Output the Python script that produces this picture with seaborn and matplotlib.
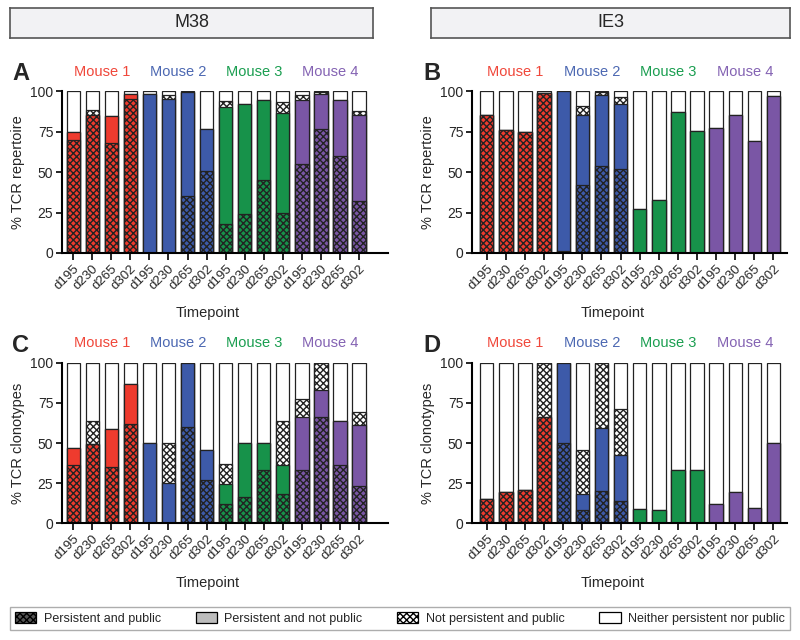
import matplotlib.pyplot as plt
import matplotlib.patches as mpatches
import pandas as pd
import numpy as np
import seaborn as sns

sns.set_theme(style='ticks')
plt.rcParams['font.family'] = ['Liberation Sans', 'DejaVu Sans']
plt.rcParams['hatch.linewidth'] = 1.0

mice = ['Mouse 1', 'Mouse 2', 'Mouse 3', 'Mouse 4']
timepoints = ['d195', 'd230', 'd265', 'd302']
mouse_colors = ['#EE3B2E', '#3D5AA9', '#17924A', '#7A56A5']
label_colors = ['#F0473A', '#4C68B2', '#1A9E50', '#8463B3']

# % of bar: persistent & public, persistent & not public, not persistent & public
# the rest up to 100 is "neither persistent nor public"
m38_rep_pp = [70, 85, 68, 95, 0, 0, 35, 50.5, 18, 24, 45, 25, 55, 76.5, 60, 32]
m38_rep_pnp = [4.5, 0, 16.5, 3.5, 98.5, 95, 64.5, 26, 72, 68, 49.5, 61.5, 39.5, 22, 34.5, 53]
m38_rep_npp = [0, 3.5, 0, 0, 0, 2.5, 0, 0, 4, 0, 0, 6.5, 3, 1, 0, 3]

ie3_rep_pp = [85.5, 76, 74.5, 99, 1, 42, 54, 52, 0, 0, 0, 0, 0, 0, 0, 0]
ie3_rep_pnp = [0, 0, 0, 0, 99, 43.5, 43.5, 40, 27, 33, 87, 75.5, 77, 85, 69, 97]
ie3_rep_npp = [0, 0, 0, 0, 0, 5, 2, 4.5, 0, 0, 0, 0, 0, 0, 0, 0]

m38_clo_pp = [36.5, 49.5, 35, 62, 0, 0, 60, 27, 12, 16.5, 33, 18, 33, 66.5, 36, 23]
m38_clo_pnp = [10.5, 0, 23.5, 25, 50, 25, 40, 18.5, 12.5, 33.5, 17, 18, 33.5, 16.5, 27.5, 38]
m38_clo_npp = [0, 14.5, 0, 0, 0, 25, 0, 0, 12.5, 0, 0, 27.5, 11, 17, 0, 8.5]

ie3_clo_pp = [15, 19.5, 21, 66.5, 50, 8.5, 20, 14, 0, 0, 0, 0, 0, 0, 0, 0]
ie3_clo_pnp = [0, 0, 0, 0, 50, 9.5, 39.5, 28.5, 9, 8.5, 33, 33, 12, 19.5, 9.5, 50]
ie3_clo_npp = [0, 0, 0, 33.5, 0, 27.5, 40.5, 28.5, 0, 0, 0, 0, 0, 0, 0, 0]

legend_labels = ['Persistent and public', 'Persistent and not public',
                 'Not persistent and public', 'Neither persistent nor public']

CHECK = 'xxxxx'
EDGE = '#222222'


def make_frame(pp, pnp, npp):
    df = pd.DataFrame({'mouse': np.repeat(mice, 4), 'timepoint': timepoints * 4,
                       'pp': pp, 'pnp': pnp, 'npp': npp})
    df['bar'] = df['mouse'] + ' ' + df['timepoint']
    df['top_pnp'] = df['pp'] + df['pnp']
    df['top_npp'] = df['top_pnp'] + df['npp']
    df['top_all'] = 100
    return df


def draw_panel(ax, df, ylabel, letter, xlim):
    order = list(df['bar'])
    common = dict(x='bar', order=order, width=0.7, edgecolor=EDGE, linewidth=0.9,
                  saturation=1, errorbar=None, ax=ax)
    # stacked bars: draw the running totals from the top layer down
    sns.barplot(data=df, y='top_all', color='white', **common)
    sns.barplot(data=df, y='top_npp', color='white', hatch=CHECK, **common)
    sns.barplot(data=df, y='top_pnp', hue='mouse', hue_order=mice, palette=mouse_colors,
                dodge=False, legend=False, **common)
    n = len(ax.patches)
    sns.barplot(data=df, y='pp', hue='mouse', hue_order=mice, palette=mouse_colors,
                dodge=False, legend=False, **common)
    for p in ax.patches[n:]:
        p.set_hatch(CHECK)

    ax.set_ylim(0, 100)
    ax.set_xlim(*xlim)
    ax.set_yticks([0, 25, 50, 75, 100])
    ax.set_xticks(range(len(order)))
    ax.set_xticklabels(df['timepoint'], rotation=45, ha='right', rotation_mode='anchor')
    ax.tick_params(axis='x', labelsize=9.5, length=5, width=1.2, color='black', pad=2)
    ax.tick_params(axis='y', labelsize=10, length=4, width=1.2, color='black', pad=2)
    sns.despine(ax=ax)
    for s in ['left', 'bottom']:
        ax.spines[s].set_linewidth(1.5)
        ax.spines[s].set_color('black')
    ax.set_ylabel(ylabel, fontsize=10.5, labelpad=4)
    ax.set_xlabel('Timepoint', fontsize=10.5)
    ax.xaxis.set_label_coords(0.447, -0.325)
    for i, m in enumerate(mice):
        ax.text(4 * i + 1.5, 112, m, color=label_colors[i], fontsize=10.5,
                ha='center', va='center', clip_on=False)
    ax.text(-0.1, 1.11, letter, transform=ax.transAxes, fontsize=17, fontweight='bold',
            ha='right', va='center')


fig = plt.figure(figsize=(8, 6.4), dpi=100)

ax_a = fig.add_axes([0.077, 0.6047, 0.4075, 0.253])
ax_b = fig.add_axes([0.5896, 0.6047, 0.394, 0.253])
ax_c = fig.add_axes([0.077, 0.1823, 0.4075, 0.251])
ax_d = fig.add_axes([0.5896, 0.1823, 0.394, 0.251])

draw_panel(ax_a, make_frame(m38_rep_pp, m38_rep_pnp, m38_rep_npp), '% TCR repertoire', 'A', (-0.61, 16.5))
draw_panel(ax_b, make_frame(ie3_rep_pp, ie3_rep_pnp, ie3_rep_npp), '% TCR repertoire', 'B', (-0.79, 15.7))
draw_panel(ax_c, make_frame(m38_clo_pp, m38_clo_pnp, m38_clo_npp), '% TCR clonotypes', 'C', (-0.61, 16.5))
draw_panel(ax_d, make_frame(ie3_clo_pp, ie3_clo_pnp, ie3_clo_npp), '% TCR clonotypes', 'D', (-0.79, 15.7))

# header boxes
for rect, title in [([0.0125, 0.941, 0.454, 0.047], 'M38'), ([0.539, 0.941, 0.4485, 0.047], 'IE3')]:
    hax = fig.add_axes(rect)
    hax.set_facecolor('#F2F2F4')
    hax.set_xticks([])
    hax.set_yticks([])
    for s in hax.spines.values():
        s.set_color('#555555')
        s.set_linewidth(1.2)
    hax.text(0.5, 0.5, title, ha='center', va='center', fontsize=13,
             transform=hax.transAxes)

handles = [
    mpatches.Patch(facecolor='#555555', edgecolor='black', hatch=CHECK, linewidth=0.9),
    mpatches.Patch(facecolor='#BDBDBD', edgecolor='black', linewidth=0.9),
    mpatches.Patch(facecolor='white', edgecolor='black', hatch=CHECK, linewidth=0.9),
    mpatches.Patch(facecolor='white', edgecolor='black', linewidth=0.9),
]
leg = fig.legend(handles, legend_labels, loc='lower left', ncol=4, mode='expand',
                 bbox_to_anchor=(0.0125, 0.0156, 0.975, 0.036), frameon=True, fancybox=False,
                 borderaxespad=0, handlelength=1.7, handleheight=1.0, handletextpad=0.6,
                 prop={'size': 9}, borderpad=0.4)
leg.get_frame().set_edgecolor('#999999')
leg.get_frame().set_linewidth(1.0)

fig.savefig('out.png', dpi=100)
